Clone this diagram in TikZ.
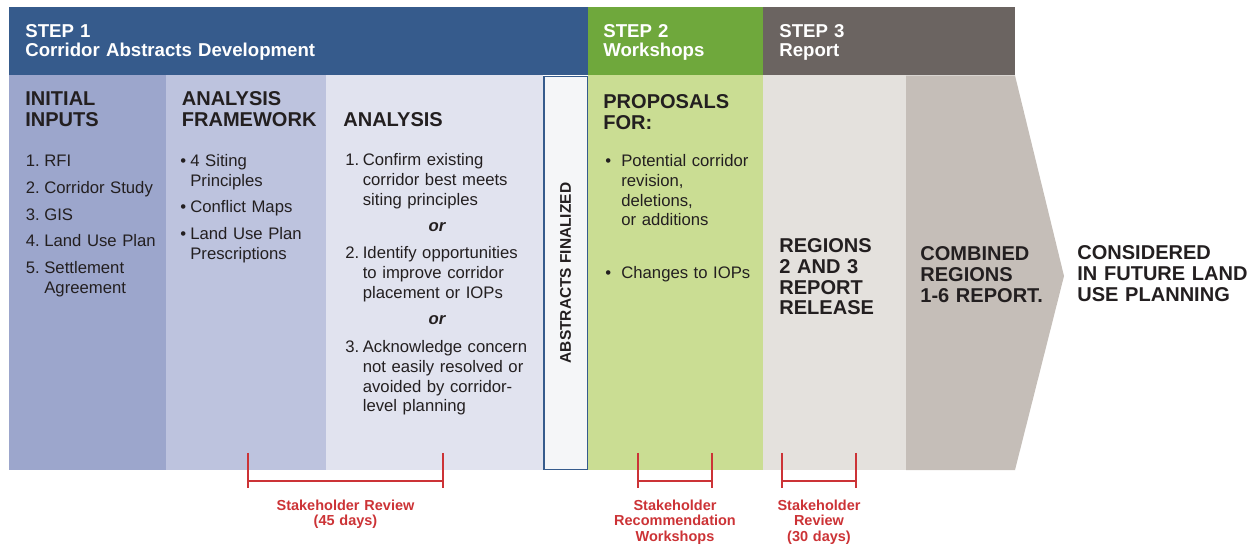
\documentclass[tikz,border=0pt]{standalone}
\usepackage{fontspec}
\setmainfont{Liberation Sans}
\usepackage{tikz}

\definecolor{stepone}{HTML}{365B8C}
\definecolor{steptwo}{HTML}{6FA83C}
\definecolor{stepthree}{HTML}{6B6461}
\definecolor{inputs}{HTML}{9CA6CC}
\definecolor{framework}{HTML}{BDC3DE}
\definecolor{analysis}{HTML}{E1E3EF}
\definecolor{finalized}{HTML}{F5F6F8}
\definecolor{workshop}{HTML}{CADD93}
\definecolor{release}{HTML}{E4E1DD}
\definecolor{combined}{HTML}{C5BEB8}
\definecolor{ink}{HTML}{231F20}
\definecolor{notered}{HTML}{CC3336}

% list entry with hanging indent: width, label, text
\newcommand{\itm}[3]{\let\\\newline\hangindent=#1\hangafter=1\noindent\makebox[#1][l]{#2}#3\par}

\begin{document}
\begin{tikzpicture}[
    hdr/.style={text=white, font=\fontsize{10.6}{10.6}\selectfont\bfseries, align=left, anchor=base west, inner sep=0pt, text width=6.5cm},
    head/.style={text=ink, font=\fontsize{11.4}{11.7}\selectfont\bfseries, align=left, anchor=base west, inner sep=0pt, text width=3.6cm},
    item/.style={text=ink, font=\fontsize{9.5}{11.1}\selectfont, anchor=base west, inner sep=0pt, text width=3.8cm},
    orsep/.style={text=ink, font=\fontsize{9.5}{11.1}\selectfont\bfseries\itshape, anchor=base, inner sep=0pt},
    note/.style={text=notered, font=\fontsize{8.25}{8.9}\selectfont\bfseries, align=center, anchor=base, inner sep=0pt, text width=3.5cm},
    bracket/.style={draw=notered, line width=0.85pt}
  ]
    \useasboundingbox (0,0) rectangle (25.2,10.88);

    % Step bands
    \fill[stepone] (0.18,9.37) rectangle (11.76,10.73);
    \fill[steptwo] (11.76,9.37) rectangle (15.26,10.73);
    \fill[stepthree] (15.26,9.37) rectangle (20.30,10.73);

    % Columns
    \fill[inputs] (0.18,1.48) rectangle (3.32,9.37);
    \fill[framework] (3.32,1.48) rectangle (6.52,9.37);
    \fill[analysis] (6.52,1.48) rectangle (10.86,9.37);
    \fill[workshop] (11.76,1.48) rectangle (15.26,9.37);
    \fill[release] (15.26,1.48) rectangle (18.12,9.37);
    \fill[combined] (18.12,1.48) -- (18.12,9.37) -- (20.30,9.37) -- (21.28,5.36) -- (20.30,1.48) -- cycle;

    \node[draw=stepone, fill=finalized, line width=0.85pt, rotate=90, minimum width=7.85cm, minimum height=0.87cm, inner sep=0pt,
      text=ink, font=\fontsize{8.8}{9}\selectfont\bfseries] (fin) at (11.31,5.42) {ABSTRACTS FINALIZED};

    % Headers
    \node[hdr] (h1) at (0.50,10.12) {STEP 1\\Corridor Abstracts Development};
    \node[hdr, text width=3cm] (h2) at (12.06,10.12) {STEP 2\\Workshops};
    \node[hdr, text width=4cm] (h3) at (15.58,10.12) {STEP 3\\Report};

    % Column titles
    \node[head] (t1) at (0.50,8.76) {INITIAL\\INPUTS};
    \node[head] (t2) at (3.63,8.76) {ANALYSIS\\FRAMEWORK};
    \node[head] (t3) at (6.86,8.34) {ANALYSIS};
    \node[head] (t4) at (12.06,8.70) {PROPOSALS\\FOR:};
    \node[head] (t5) at (15.58,5.82) {REGIONS\\2 AND 3\\REPORT\\RELEASE};
    \node[head] (t6) at (18.40,5.66) {COMBINED\\REGIONS\\1-6 REPORT.};
    \node[head] (t7) at (21.54,5.68) {CONSIDERED\\IN FUTURE LAND\\USE PLANNING};

    % Column 1: Initial inputs
    \node[item] (i1) at (0.51,7.54) {\itm{0.37cm}{1.}{RFI}};
    \node[item] (i2) at (0.51,7.00) {\itm{0.37cm}{2.}{Corridor Study}};
    \node[item] (i3) at (0.51,6.46) {\itm{0.37cm}{3.}{GIS}};
    \node[item] (i4) at (0.51,5.94) {\itm{0.37cm}{4.}{Land Use Plan}};
    \node[item] (i5) at (0.51,5.40) {\itm{0.37cm}{5.}{Settlement\\Agreement}};

    % Column 2: Analysis framework
    \node[item] (f1) at (3.60,7.54) {\itm{0.2cm}{•}{4 Siting\\Principles}};
    \node[item] (f2) at (3.60,6.62) {\itm{0.2cm}{•}{Conflict Maps}};
    \node[item] (f3) at (3.60,6.08) {\itm{0.2cm}{•}{Land Use Plan\\Prescriptions}};

    % Column 3: Analysis
    \node[item] (a1) at (6.90,7.56) {\itm{0.35cm}{1.}{Confirm existing\\corridor best meets\\siting principles}};
    \node[orsep] (or1) at (8.74,6.24) {or};
    \node[item] (a2) at (6.90,5.70) {\itm{0.35cm}{2.}{Identify opportunities\\to improve corridor\\placement or IOPs}};
    \node[orsep] (or2) at (8.74,4.38) {or};
    \node[item] (a3) at (6.90,3.82) {\itm{0.35cm}{3.}{Acknowledge concern\\not easily resolved or\\avoided by corridor-\\level planning}};

    % Step 2: Proposals
    \node[item] (p1) at (12.10,7.54) {\itm{0.32cm}{•}{Potential corridor\\revision,\\deletions,\\or additions}};
    \node[item] (p2) at (12.10,5.30) {\itm{0.32cm}{•}{Changes to IOPs}};

    % Review periods
    \foreach \l/\r in {4.96/8.86, 12.76/14.24, 15.64/17.12}
      \draw[bracket] (\l,1.82) -- (\l,1.12) (\l,1.26) -- (\r,1.26) (\r,1.82) -- (\r,1.12);
    \node[note] (n1) at (6.91,0.68) {Stakeholder Review\\(45 days)};
    \node[note] (n2) at (13.50,0.68) {Stakeholder\\Recommendation\\Workshops};
    \node[note] (n3) at (16.38,0.68) {Stakeholder\\Review\\(30 days)};
  \end{tikzpicture}
\end{document}
